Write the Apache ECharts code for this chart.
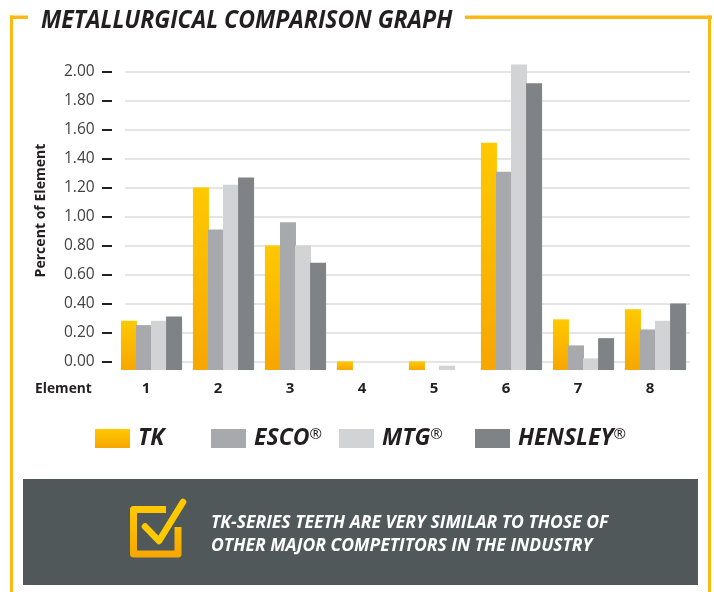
<!DOCTYPE html>
<html>
<head>
<meta charset="utf-8">
<style>
  html, body { margin: 0; padding: 0; background: #fff; }
  #chart { width: 714px; height: 592px; }
</style>
<script src="https://cdn.jsdelivr.net/npm/echarts@6/dist/echarts.min.js"></script>
</head>
<body>
<div id="chart"></div>
<script>
var elements = ['1', '2', '3', '4', '5', '6', '7', '8'];
var tk      = [0.28, 1.20, 0.80, 0.00, 0.00, 1.51, 0.29, 0.36];
var esco    = [0.25, 0.91, 0.96, null, null, 1.31, 0.11, 0.22];
var mtg     = [0.28, 1.22, 0.80, null, -0.03, 2.05, 0.02, 0.28];
var hensley = [0.31, 1.27, 0.68, null, null, 1.92, 0.16, 0.40];
var yTicks = { min: 0, max: 2, step: 0.2 };

// bars in the picture hang from a floor just under 0.00
var floor = 0.06;
var font = '"Open Sans"';
var yellow = '#FDB913';

function lift(list) {
  return list.map(function (v) { return v === null ? null : +(v + floor).toFixed(2); });
}

function yellowFill() {
  return new echarts.graphic.LinearGradient(0, 0, 0, 1, [
    { offset: 0, color: '#FFC900' },
    { offset: 1, color: '#F7A600' }
  ]);
}

function barSeries(name, list, color) {
  return {
    name: name,
    type: 'bar',
    xAxisIndex: 1,
    yAxisIndex: 1,
    barWidth: 16,
    barGap: '-6%',
    itemStyle: { color: color },
    data: lift(list)
  };
}

function legendAt(name, left) {
  return {
    left: left,
    top: 427,
    padding: 0,
    data: [name],
    icon: 'rect',
    itemWidth: 35,
    itemHeight: 19,
    itemGap: 0,
    selectedMode: false,
    formatter: function (n) {
      return n === 'TK' ? '{a|TK}' : '{a|' + n + '}{r|®}';
    },
    textStyle: {
      rich: {
        a: { fontFamily: font, fontStyle: 'italic', fontWeight: 'bold', fontSize: 23, color: '#231F20', padding: [0, 0, 0, 3] },
        r: { fontFamily: font, fontStyle: 'italic', fontSize: 15, color: '#231F20', verticalAlign: 'top', padding: [0, 0, 8, 0] }
      }
    }
  };
}

function bandRect(x, y, w, h, fill) {
  return { type: 'rect', silent: true, shape: { x: x, y: y, width: w, height: h }, style: { fill: fill } };
}

var option = {
  backgroundColor: '#ffffff',
  animation: false,
  grid: [
    { left: 125, top: 72, width: 565, height: 289.5 },
    { left: 115.5, top: 57.3, width: 576, height: 312.7 },
    { left: 112, top: 72, width: 13, height: 289.5 }
  ],
  xAxis: [
    { gridIndex: 0, type: 'value', show: false },
    {
      gridIndex: 1,
      type: 'category',
      data: elements,
      axisLine: { show: false },
      axisTick: { show: false },
      axisLabel: {
        margin: 11,
        padding: [0, 11, 0, 0],
        fontFamily: font,
        fontWeight: 'bold',
        fontSize: 15,
        color: '#231F20'
      }
    },
    { gridIndex: 2, type: 'value', show: false }
  ],
  yAxis: [
    {
      gridIndex: 0,
      type: 'value',
      min: yTicks.min,
      max: yTicks.max,
      interval: yTicks.step,
      axisLine: { show: false },
      axisTick: { show: false },
      axisLabel: { show: false },
      splitLine: { show: true, lineStyle: { color: '#DCDDDE', width: 1.5 } }
    },
    { gridIndex: 1, type: 'value', min: 0, max: 2.16, show: false, splitLine: { show: false } },
    {
      gridIndex: 2,
      type: 'value',
      min: yTicks.min,
      max: yTicks.max,
      interval: yTicks.step,
      axisLine: { show: false },
      axisTick: { show: true, length: 10, lineStyle: { color: '#231F20', width: 2 } },
      axisLabel: {
        margin: 48,
        align: 'left',
        padding: [6, 0, 0, 0],
        fontFamily: font,
        fontSize: 15.5,
        color: '#414042',
        formatter: function (v) { return v.toFixed(2); }
      },
      splitLine: { show: false }
    }
  ],
  legend: [
    legendAt('TK', 95),
    legendAt('ESCO', 211),
    legendAt('MTG', 339),
    legendAt('HENSLEY', 475)
  ],
  series: [
    barSeries('TK', tk, yellowFill()),
    barSeries('ESCO', esco, '#A7A9AC'),
    barSeries('MTG', mtg, '#D1D3D4'),
    barSeries('HENSLEY', hensley, '#7F8386')
  ],
  graphic: [
    // frame round the chart, broken by the title
    bandRect(10, 15.5, 18, 3.5, yellow),
    bandRect(10, 15.5, 3, 577, yellow),
    bandRect(465, 15.5, 247, 3.5, yellow),
    bandRect(708, 15.5, 3, 577, yellow),
    {
      type: 'text', silent: true, x: 41, y: 21, scaleX: 0.922,
      style: {
        text: 'METALLURGICAL COMPARISON GRAPH',
        fontFamily: font, fontStyle: 'italic', fontWeight: 'bold', fontSize: 25,
        fill: '#231F20', verticalAlign: 'middle'
      }
    },
    {
      type: 'text', silent: true, x: 41, y: 210.5, rotation: Math.PI / 2, scaleX: 0.97,
      style: {
        text: 'Percent of Element',
        fontFamily: font, fontWeight: 'bold', fontSize: 14.5,
        fill: '#231F20', align: 'center', verticalAlign: 'middle'
      }
    },
    {
      type: 'text', silent: true, x: 35, y: 389, scaleX: 0.92,
      style: {
        text: 'Element',
        fontFamily: font, fontWeight: 'bold', fontSize: 15,
        fill: '#231F20', verticalAlign: 'middle'
      }
    },
    // callout band
    bandRect(23, 479, 675, 106, '#50585A'),
    {
      type: 'polyline', silent: true,
      shape: { points: [[166, 509.5], [133.5, 509.5], [133.5, 554], [178, 554], [178, 527]] },
      style: { fill: 'none', stroke: yellowFill(), lineWidth: 7, lineJoin: 'round' }
    },
    {
      type: 'polyline', silent: true,
      shape: { points: [[145, 526.5], [159, 541], [183, 502]] },
      style: { fill: 'none', stroke: '#FFC900', lineWidth: 6.5, lineCap: 'round', lineJoin: 'round' }
    },
    {
      type: 'text', silent: true, x: 211, y: 523, scaleX: 0.975,
      style: {
        text: 'TK-SERIES TEETH ARE VERY SIMILAR TO THOSE OF',
        fontFamily: font, fontStyle: 'italic', fontWeight: 'bold', fontSize: 18,
        fill: '#ffffff', verticalAlign: 'middle'
      }
    },
    {
      type: 'text', silent: true, x: 211, y: 546, scaleX: 0.975,
      style: {
        text: 'OTHER MAJOR COMPETITORS IN THE INDUSTRY',
        fontFamily: font, fontStyle: 'italic', fontWeight: 'bold', fontSize: 18,
        fill: '#ffffff', verticalAlign: 'middle'
      }
    }
  ]
};

var myChart = echarts.init(document.getElementById('chart'));
myChart.setOption(option);
</script>
</body>
</html>
